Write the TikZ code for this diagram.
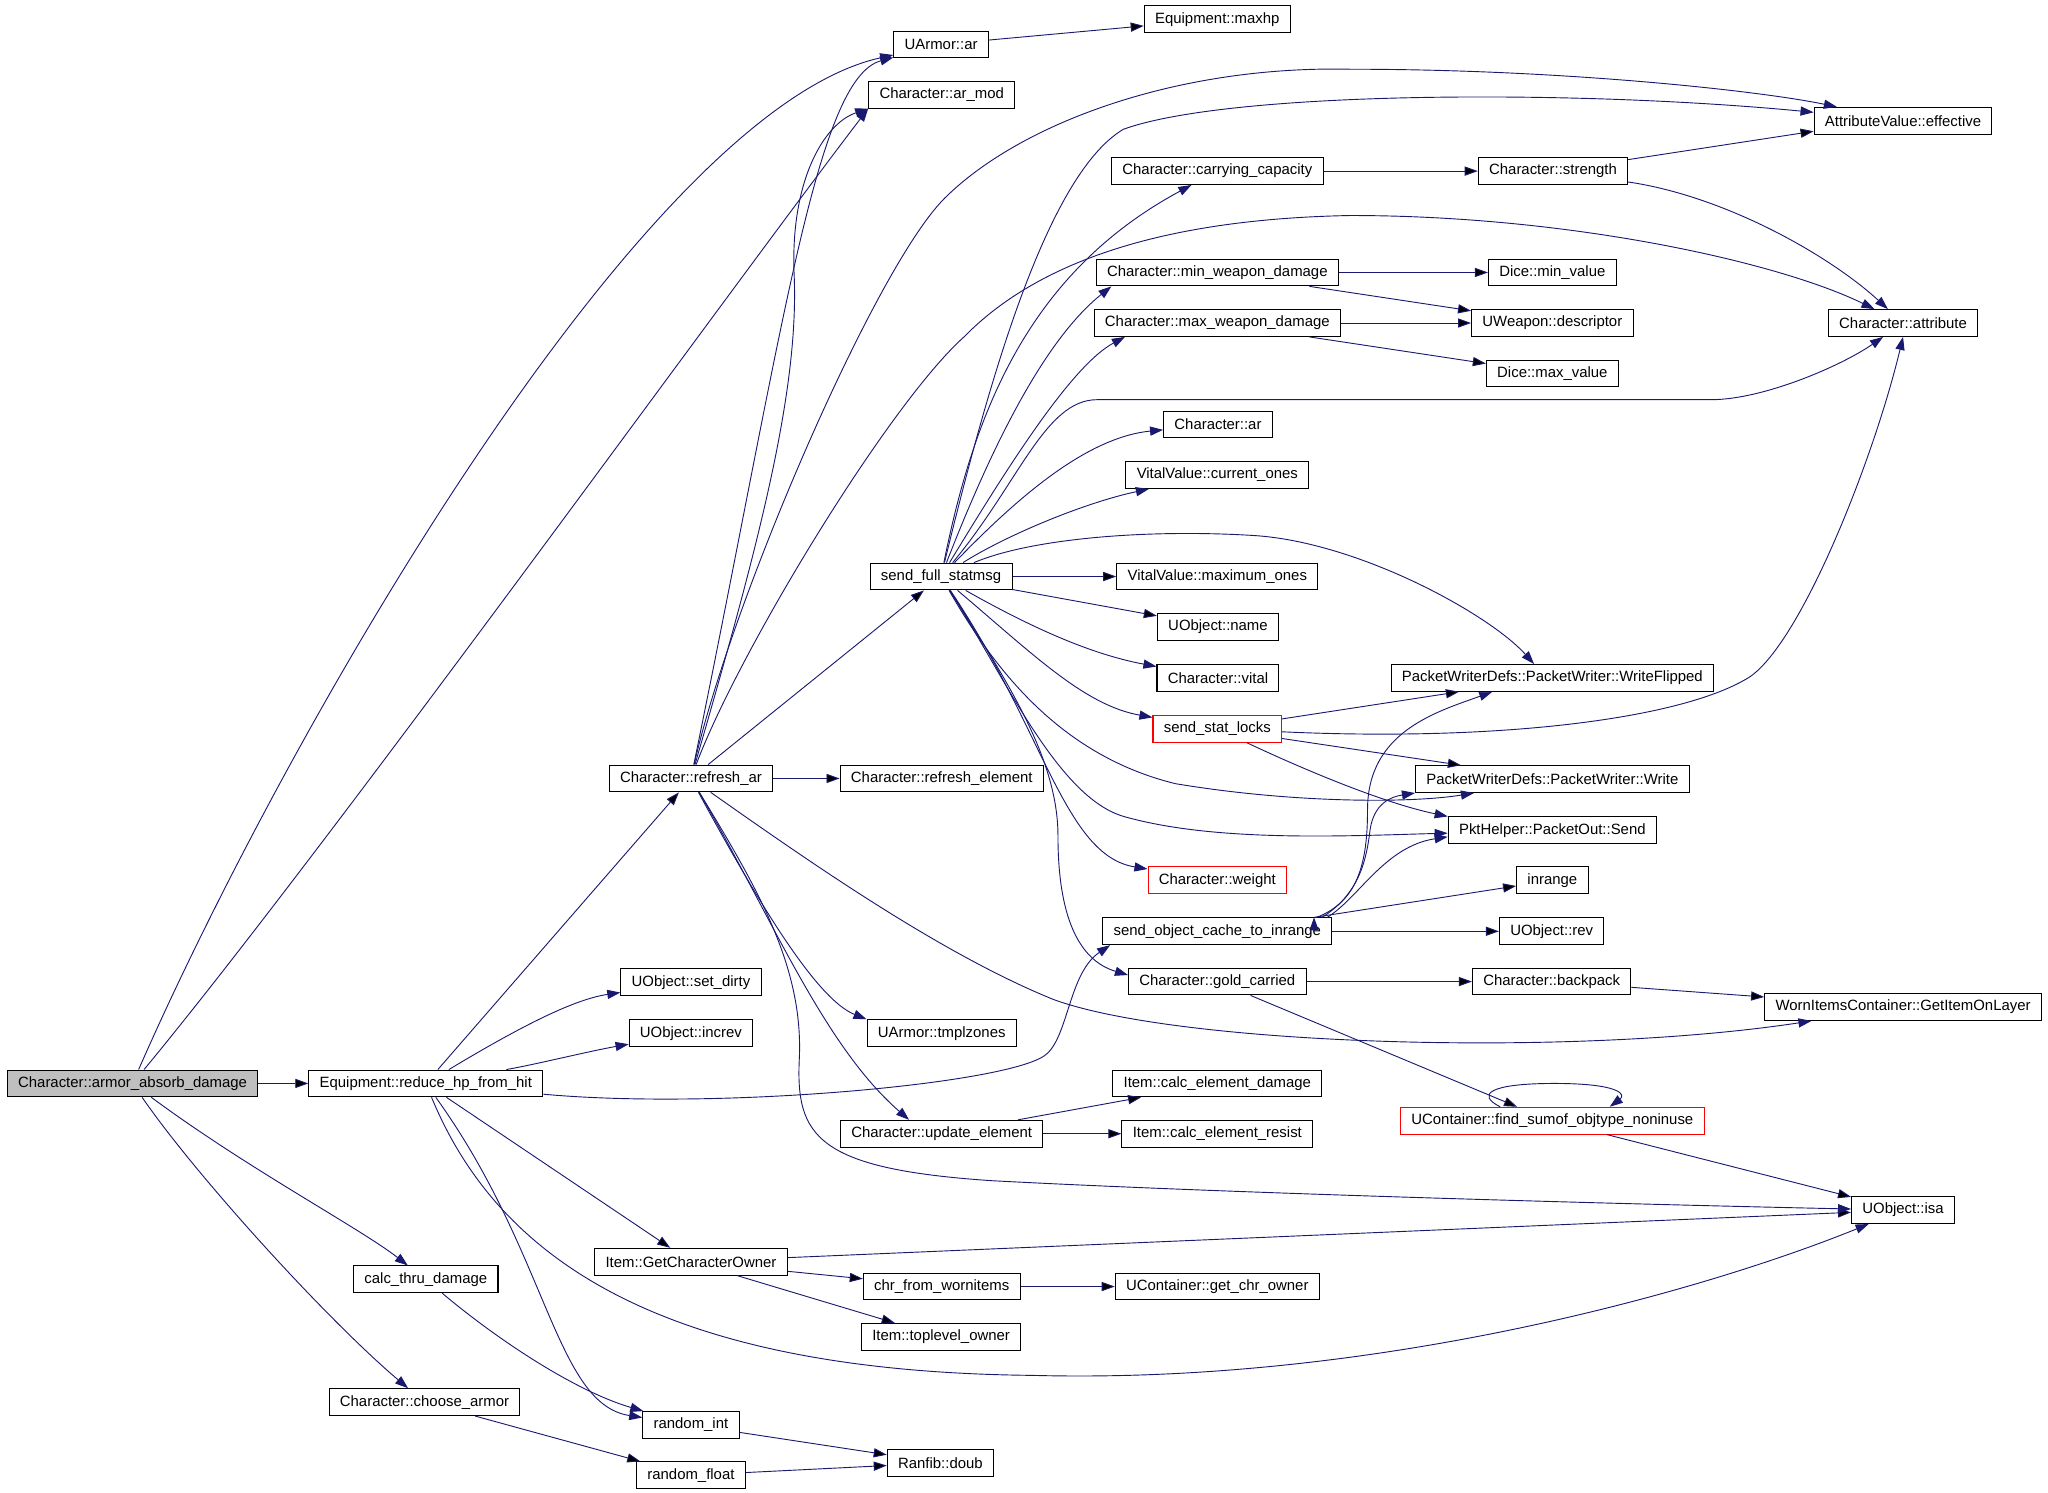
\documentclass[tikz,border=0pt]{standalone}
\usepackage{fontspec}
\setmainfont{Liberation Sans}
\usetikzlibrary{arrows.meta}
\definecolor{edgeblue}{RGB}{25,25,112}

\begin{document}
\begin{tikzpicture}[x=0.02cm,y=-0.02cm,>={Triangle[length=0.2cm,width=0.14cm]},
                    main node/.style={rectangle,draw,line width=0.45pt,minimum height=0.41cm,
                      inner xsep=0.166cm,inner ysep=0pt,font=\fontsize{6.5}{7}\selectfont},
                    red node/.style={main node,draw=red},
                    root node/.style={main node,fill=black!25},
                    call/.style={->,draw=edgeblue,line width=0.4pt}]
  \useasboundingbox (0,0) rectangle (1568,1143);
  %call graph%
  \node[root node] (1) at (101.5,829.5) {Character::armor\_absorb\_damage};
  \node[main node] (2) at (326,829.5) {Equipment::reduce\_hp\_from\_hit};
  \node[main node] (3) at (720.5,34) {UArmor::ar};
  \node[main node] (4) at (932,14.7) {Equipment::maxhp};
  \node[main node] (5) at (721,72.5) {Character::ar\_mod};
  \node[main node] (6) at (1457,92.5) {AttributeValue::effective};
  \node[main node] (7) at (932,131) {Character::carrying\_capacity};
  \node[main node] (8) at (1189,131) {Character::strength};
  \node[main node] (9) at (932,208.6) {Character::min\_weapon\_damage};
  \node[main node] (10) at (1188.5,208.6) {Dice::min\_value};
  \node[main node] (11) at (932,247.3) {Character::max\_weapon\_damage};
  \node[main node] (12) at (1188.5,247.3) {UWeapon::descriptor};
  \node[main node] (13) at (1188.5,286) {Dice::max\_value};
  \node[main node] (14) at (1457,247.3) {Character::attribute};
  \node[main node] (15) at (932.5,325) {Character::ar};
  \node[main node] (16) at (932,363.7) {VitalValue::current\_ones};
  \node[main node] (17) at (720.5,441.4) {send\_full\_statmsg};
  \node[main node] (18) at (932,441.4) {VitalValue::maximum\_ones};
  \node[main node] (19) at (932.5,480) {UObject::name};
  \node[main node] (20) at (932.5,519) {Character::vital};
  \node[main node] (21) at (1188.5,519) {PacketWriterDefs::PacketWriter::WriteFlipped};
  \node[red node] (22) at (932,558) {send\_stat\_locks};
  \node[main node] (23) at (1188.5,596.5) {PacketWriterDefs::PacketWriter::Write};
  \node[main node] (24) at (529,596) {Character::refresh\_ar};
  \node[main node] (25) at (721,596) {Character::refresh\_element};
  \node[main node] (26) at (1188.5,635.7) {PktHelper::PacketOut::Send};
  \node[red node] (27) at (932,674) {Character::weight};
  \node[main node] (28) at (1188.5,674) {inrange};
  \node[main node] (29) at (932,713) {send\_object\_cache\_to\_inrange};
  \node[main node] (30) at (1188,713) {UObject::rev};
  \node[main node] (31) at (932,751.5) {Character::gold\_carried};
  \node[main node] (32) at (1188,751.5) {Character::backpack};
  \node[main node] (33) at (1457,771) {WornItemsContainer::GetItemOnLayer};
  \node[main node] (34) at (529,752) {UObject::set\_dirty};
  \node[main node] (35) at (529,791) {UObject::increv};
  \node[main node] (36) at (721,791) {UArmor::tmplzones};
  \node[main node] (37) at (932,829.5) {Item::calc\_element\_damage};
  \node[red node] (38) at (1188.5,858) {UContainer::find\_sumof\_objtype\_noninuse};
  \node[main node] (39) at (721,868) {Character::update\_element};
  \node[main node] (40) at (932,868) {Item::calc\_element\_resist};
  \node[main node] (41) at (1457,926.5) {UObject::isa};
  \node[main node] (42) at (529,966) {Item::GetCharacterOwner};
  \node[main node] (43) at (326,979.5) {calc\_thru\_damage};
  \node[main node] (44) at (721,985) {chr\_from\_wornitems};
  \node[main node] (45) at (932,985) {UContainer::get\_chr\_owner};
  \node[main node] (46) at (720.5,1023.5) {Item::toplevel\_owner};
  \node[main node] (47) at (325,1073.5) {Character::choose\_armor};
  \node[main node] (48) at (529,1091) {random\_int};
  \node[main node] (49) at (720,1120) {Ranfib::doub};
  \node[main node] (50) at (529,1129.5) {random\_float};

  \path[call]
    (1) edge (2)
    (2) edge (24)
        edge (42)
    (3) edge (4)
    (7) edge (8)
    (8) edge ([yshift=-0.16cm]6.west)
    (9) edge (10)
        edge (12)
    (11) edge (12)
         edge (13)
    (17) edge (18)
         edge (19)
    (22) edge ([xshift=-1.43cm]21.south)
         edge ([xshift=-1.4cm]23.north)
    (24) edge (17)
         edge (25)
    ([xshift=-0.28cm]29.north east) edge (28)
    (29) edge (30)
    (31) edge (32)
         edge ([xshift=-0.54cm]38.north)
    (32) edge (33)
    (38) edge (41)
    (39) edge (37)
         edge (40)
    (42) edge (41)
         edge (44)
         edge (46)
    (44) edge (45)
    (47) edge (50)
    (48) edge (49)
    (50) edge (49);

  \draw[call] (1) .. controls (215,570) and (490,85) .. (3);
  \draw[call] (1) .. controls (250,650) and (560,220) .. (5.south west);
  \draw[call] (1) .. controls (190,895) and (275,940) .. (43);
  \draw[call] (1) .. controls (150,900) and (250,1010) .. (47);
  \draw[call] (2) .. controls (400,785) and (440,765) .. (34);
  \draw[call] (2) .. controls (410,815) and (450,805) .. (35);
  \draw[call] (2) .. controls (550,850) and (770,830) .. (800,808)
    .. controls (818,795) and (818,745) .. ([xshift=0.12cm]29.south west);
  \draw[call] (2) .. controls (420,960) and (425,1075) .. (48);
  \draw[call] (2) .. controls (380,960) and (500,1050) .. (790,1053)
    .. controls (1050,1060) and (1300,990) .. (41);
  \draw[call] (24) .. controls (600,250) and (625,60) .. (3);
  \draw[call] (24) .. controls (580,420) and (612,300) .. (608,210)
    .. controls (605,140) and (630,95) .. (5.south west);
  \draw[call] (24) .. controls (560,460) and (670,205) .. (723,152)
    .. controls (780,95) and (900,50) .. (1034,53)
    .. controls (1200,53) and (1350,70) .. (6);
  \draw[call] (24) .. controls (565,500) and (680,310) .. (738,258)
    .. controls (785,210) and (870,168) .. (1034,165)
    .. controls (1200,165) and (1360,200) .. (14);
  \draw[call] (24) .. controls (580,690) and (625,765) .. (36.north west);
  \draw[call] (24) .. controls (590,700) and (630,800) .. ([xshift=-0.5cm]39.north);
  \draw[call] (24) .. controls (580,680) and (615,740) .. (612,810)
    .. controls (609,870) and (625,895) .. (760,904)
    .. controls (950,914) and (1250,922) .. (41);
  \draw[call] (24) .. controls (620,660) and (720,730) .. (806,765)
    .. controls (900,800) and (1200,810) .. (33);
  \draw[call] (8) .. controls (1320,150) and (1400,195) .. (14);
  \draw[call] (17) .. controls (755,300) and (800,135) .. (860,99)
    .. controls (940,70) and (1200,68) .. (6);
  \draw[call] (17) .. controls (745,320) and (785,210) .. (7);
  \draw[call] (17) .. controls (760,340) and (800,260) .. ([xshift=0.24cm]9.south west);
  \draw[call] (17) .. controls (770,360) and (820,280) .. ([xshift=0.48cm]11.south west);
  \draw[call] (17) .. controls (780,370) and (800,306) .. (840,306) -- (1310,306)
    .. controls (1350,306) and (1410,280) .. (14);
  \draw[call] (17) .. controls (775,385) and (830,335) .. (15);
  \draw[call] (17) .. controls (770,410) and (830,385) .. ([xshift=0.36cm]16.south west);
  \draw[call] (17) .. controls (790,412) and (880,405) .. (960,410)
    .. controls (1040,415) and (1140,470) .. ([xshift=-0.28cm]21.north);
  \draw[call] (17) .. controls (780,475) and (830,500) .. (20);
  \draw[call] (17) .. controls (790,500) and (830,540) .. (22);
  \draw[call] (17) .. controls (760,510) and (810,578) .. (900,600)
    .. controls (990,615) and (1080,615) .. ([xshift=-1.2cm]23.south);
  \draw[call] (17) .. controls (770,520) and (810,610) .. (860,625)
    .. controls (930,645) and (1030,640) .. (26);
  \draw[call] (17) .. controls (800,560) and (815,655) .. (27);
  \draw[call] (17) .. controls (770,520) and (810,580) .. (810,640)
    .. controls (810,700) and (825,735) .. ([yshift=0.1cm]31.west);
  \draw[call] (22) .. controls (1150,568) and (1290,550) .. (1340,518)
    .. controls (1380,490) and (1435,350) .. (14.south);
  \draw[call] (22) .. controls (1000,590) and (1060,615) .. (26.north west);
  \draw[call] ([xshift=-0.24cm]29.north east) .. controls (1040,690) and (1047,660) .. (1047,620)
    .. controls (1047,560) and (1100,545) .. ([xshift=-0.92cm]21.south);
  \draw[call] ([xshift=-0.16cm]29.north east) .. controls (1040,685) and (1046,660) .. (1049,635)
    .. controls (1052,615) and (1065,610) .. (23.south west);
  \draw[call] ([xshift=-0.08cm]29.north east) .. controls (1040,688) and (1060,648) .. ([yshift=-0.1cm]26.west);
  \draw[call] ([xshift=-0.8cm]38.north) .. controls (1130,838) and (1140,829.5) .. (1190,829.5)
    .. controls (1240,829.5) and (1245,838) .. ([xshift=0.88cm]38.north);
  \draw[call] (43) .. controls (380,1025) and (440,1065) .. (48);
\end{tikzpicture}
\end{document}
